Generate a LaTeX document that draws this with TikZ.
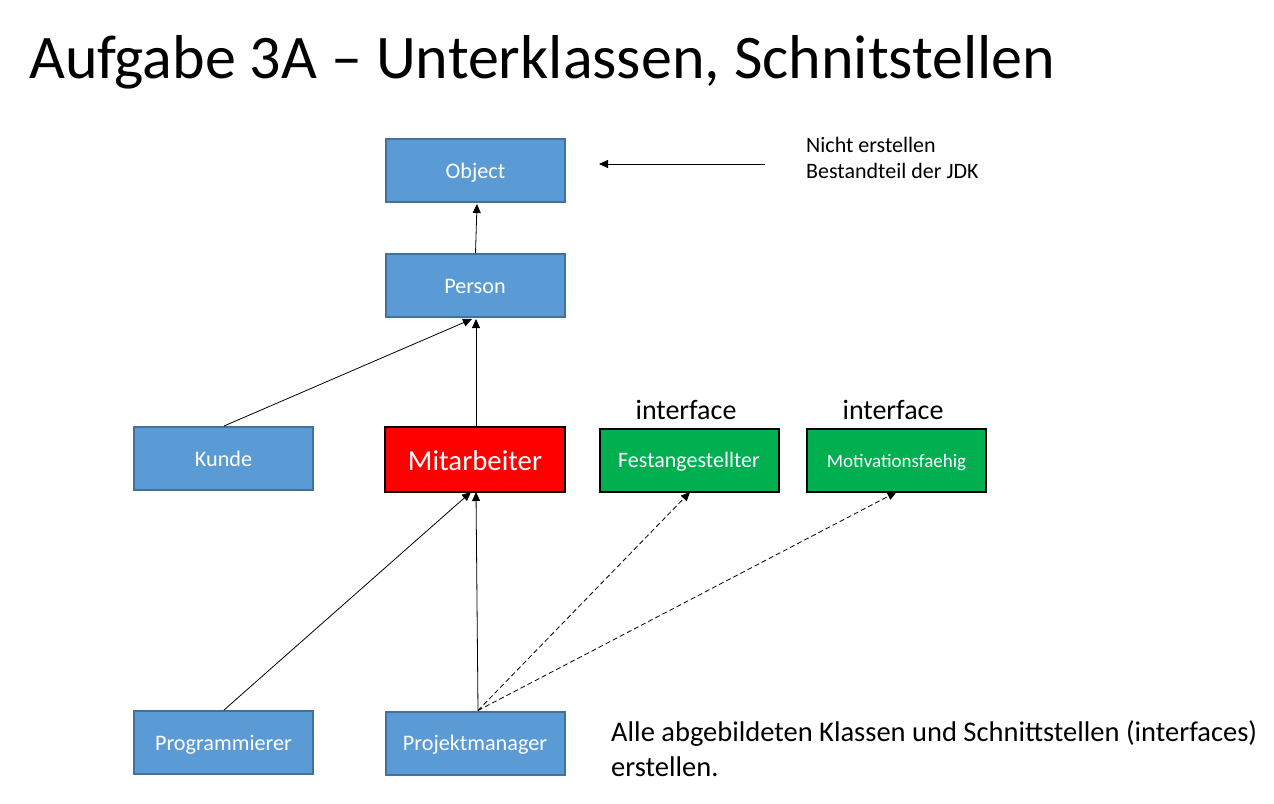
\documentclass[tikz,border=0pt]{standalone}
\usepackage{fontspec}
\setmainfont{Carlito}
\usetikzlibrary{arrows.meta}
\begin{document}
\begin{tikzpicture}[x=1pt,y=-1pt,
  boxtext/.style={text height=15pt, text depth=0pt, inner sep=0pt, text=white, line width=2pt},
  cls/.style={boxtext, draw=clsedge, fill=clsblue, minimum width=179pt, minimum height=63pt, font=\fontsize{22.2}{24}\selectfont},
  main/.style={boxtext, text height=21pt, draw=black, fill=red, minimum width=180pt, minimum height=65pt, font=\fontsize{28.8}{32}\selectfont},
  iface/.style={boxtext, draw=black, fill=ifgreen, minimum width=179pt, minimum height=63pt},
  inh/.style={-{Triangle[length=9pt,width=8pt]}, line width=0.8pt},
  impl/.style={-{Triangle[length=9pt,width=8pt]}, line width=0.8pt, dash pattern=on 5pt off 3pt},
  txt/.style={anchor=base west, inner sep=0pt}
]
\definecolor{clsblue}{HTML}{5B9BD5}
\definecolor{clsedge}{HTML}{41719C}
\definecolor{ifgreen}{HTML}{00B050}
\useasboundingbox (0,0) rectangle (1274,803);
\fill[white] (0,0) rectangle (1274,803);

% title
\node[txt, font=\fontsize{62}{72}\selectfont] (title) at (29,78) {Aufgabe 3A – Unterklassen, Schnitstellen};

% class boxes
\node[cls] (object) at (475.5,170.5) {Object};
\node[cls] (person) at (475,285.5) {Person};
\node[cls] (kunde) at (223.5,458.5) {Kunde};
\node[main] (mitarb) at (475,459.5) {Mitarbeiter};
\node[iface, text height=14pt, font=\fontsize{22}{24}\selectfont] (fest) at (689,460.5) {Festangestellter};
\node[iface, text height=13pt, font=\fontsize{19}{21}\selectfont] (motiv) at (896.5,460.5) {Motivationsfaehig};
\node[cls] (prog) at (223.5,742.5) {Programmierer};
\node[cls] (pm) at (475,743) {Projektmanager};

% stereotype labels
\node[anchor=base, inner sep=0pt, font=\fontsize{28}{32}\selectfont] (if1) at (686,419) {interface};
\node[anchor=base, inner sep=0pt, font=\fontsize{28}{32}\selectfont] (if2) at (893,419) {interface};

% notes
\node[txt, font=\fontsize{22}{26}\selectfont] (jdk1) at (806,152) {Nicht erstellen};
\node[txt, font=\fontsize{22}{26}\selectfont] (jdk2) at (806,178) {Bestandteil der JDK};
\node[txt, font=\fontsize{28.5}{34}\selectfont] (hint1) at (611,741) {Alle abgebildeten Klassen und Schnittstellen (interfaces)};
\node[txt, font=\fontsize{28.5}{34}\selectfont] (hint2) at (611,776) {erstellen.};
\coordinate (jdkfrom) at (765,164);
\coordinate (jdkto) at (599,164);
\draw[inh] (jdkfrom) -- (jdkto);

% inheritance
\draw[inh] ([xshift=0.5pt]person.north) -- ([xshift=1.5pt,yshift=-1pt]object.south);
\draw[inh] ([xshift=0.5pt]kunde.north) -- ([xshift=-3pt,yshift=-1pt]person.south);
\draw[inh] ([xshift=1pt]mitarb.north) -- ([xshift=1pt,yshift=-1pt]person.south);
\draw[inh] ([xshift=0.5pt]prog.north) -- ([xshift=-4pt,yshift=1pt]mitarb.south);
\draw[inh] ([xshift=3pt]pm.north) -- ([xshift=1pt,yshift=1pt]mitarb.south);

% realization
\draw[impl] ([xshift=3pt]pm.north) -- ([xshift=1pt,yshift=1pt]fest.south);
\draw[impl] ([xshift=3pt]pm.north) -- ([yshift=1pt]motiv.south);
\end{tikzpicture}
\end{document}
